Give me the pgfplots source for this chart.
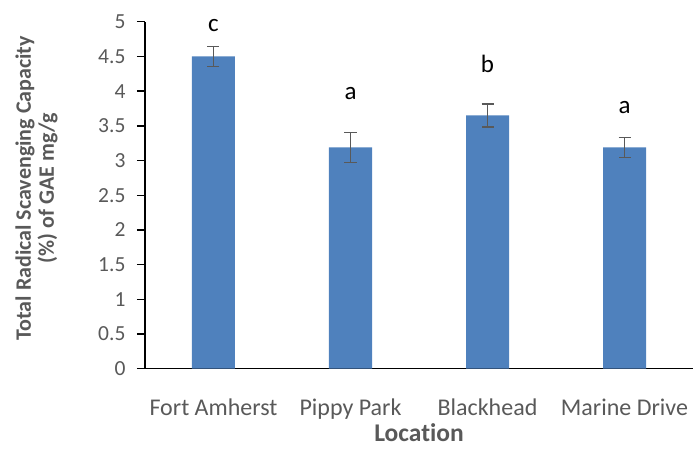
\documentclass[border=0pt]{standalone}
\usepackage{pgfplots}
\pgfplotsset{compat=1.18}
\usepackage{fontspec}
\setmainfont{Carlito}[Ligatures=NoCommon]
\definecolor{BarBlue}{HTML}{4F81BD}
\definecolor{TickGray}{HTML}{595959}

\pgfplotstableread{
x  y     err
0  4.50  0.145
1  3.19  0.215
2  3.65  0.165
3  3.19  0.145
}\radical

\begin{document}
\begin{tikzpicture}[x=1pt,y=1pt]
\begin{axis}[
    at={(0pt,0pt)}, anchor=south west,
    scale only axis,
    width=548pt, height=347pt,
    xmin=-0.5, xmax=3.5,
    ymin=0, ymax=5,
    axis x line=bottom, axis y line=left,
    axis line style={black, line width=1.4pt, -},
    xtick=data,
    xticklabels={Fort Amherst, Pippy Park, Blackhead, Marine Drive},
    x tick style={draw=none},
    ytick={0,0.5,...,5},
    y tick style={black, line width=1.4pt},
    tick align=outside,
    major tick length=8pt,
    /pgf/number format/assume math mode=true,
    yticklabel style={font=\fontsize{21.5}{24}\selectfont, text=TickGray, anchor=east, xshift=-8pt},
    xticklabel style={font=\fontsize{24}{26}\selectfont, text=TickGray, anchor=base, yshift=-39pt},
    xlabel={\textbf{Location}},
    xlabel style={font=\fontsize{25.5}{28}\selectfont, text=TickGray, at={(axis description cs:0.5,0)}, anchor=base, yshift=-73pt},
    ylabel={\textbf{Total Radical Scavenging Capacity}\\\textbf{(\%) of GAE mg/g}},
    ylabel style={font=\fontsize{22}{23}\selectfont, text=TickGray, align=center, at={(axis description cs:-0.198,0.52)}, anchor=center},
    ybar, bar width=43pt,
    clip=false,
]
\addplot[draw=none, fill=BarBlue,
    error bars/.cd, y dir=both, y explicit,
    error bar style={TickGray, line width=1.4pt},
    error mark options={rotate=90, TickGray, mark size=6pt, line width=1.4pt}]
    table[x=x, y=y, y error=err] {\radical};
\node[anchor=base, font=\fontsize{25}{28}\selectfont] at (axis cs:0,4.86) {c};
\node[anchor=base, font=\fontsize{25}{28}\selectfont] at (axis cs:1,3.88) {a};
\node[anchor=base, font=\fontsize{25}{28}\selectfont] at (axis cs:2,4.27) {b};
\node[anchor=base, font=\fontsize{25}{28}\selectfont] at (axis cs:3,3.68) {a};
\end{axis}
\pgfresetboundingbox
\useasboundingbox (-145pt,-79.3pt) rectangle (548pt,368.7pt);
\end{tikzpicture}
\end{document}
